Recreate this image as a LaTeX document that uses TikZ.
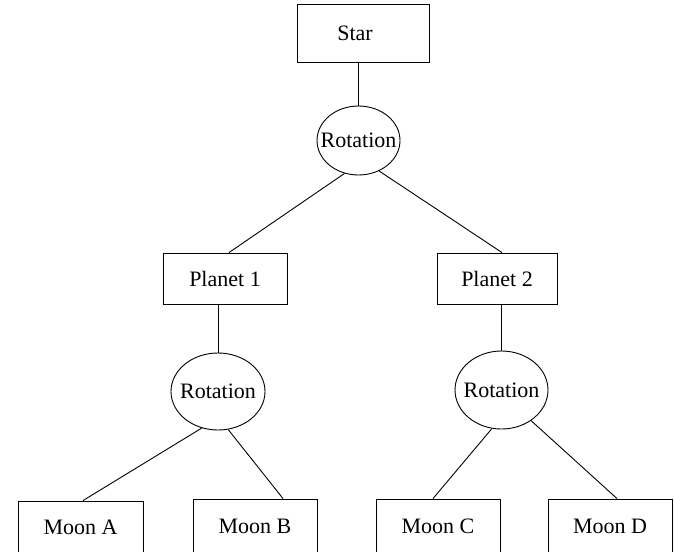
\documentclass[tikz,border=0pt]{standalone}
\usepackage{fontspec}
\setmainfont{Liberation Serif}
\usetikzlibrary{shapes.geometric}
\begin{document}
\begin{tikzpicture}[x=1pt,y=-1pt,
  every node/.style={font=\fontsize{22}{26}\selectfont, inner sep=0pt},
  box/.style={draw, line width=0.9pt, rectangle},
  rot/.style={draw, line width=0.9pt, ellipse},
  conn/.style={line width=0.9pt}]
\useasboundingbox[fill=white] (0,0) rectangle (674,551);
\node[box, minimum width=132pt, minimum height=58pt] (star) at (363,33) {\hspace*{-16pt}Star};
\node[rot, minimum width=83pt, minimum height=69pt] (r0) at (358.5,140.5) {\makebox[0pt]{Rotation}};
\node[box, minimum width=124pt, minimum height=51pt] (p1) at (225,278.5) {Planet 1};
\node[box, minimum width=120pt, minimum height=51pt] (p2) at (497,278.5) {Planet 2};
\node[rot, minimum width=94pt, minimum height=77pt] (r1) at (218,391.5) {\makebox[0pt]{Rotation}};
\node[rot, minimum width=93pt, minimum height=78pt] (r2) at (501.5,390) {\makebox[0pt]{Rotation}};
\node[box, minimum width=125pt, minimum height=52pt] (mA) at (80.5,527) {Moon A};
\node[box, minimum width=124pt, minimum height=54pt] (mB) at (255,526) {Moon B};
\node[box, minimum width=124pt, minimum height=54pt] (mC) at (438,526) {Moon C};
\node[box, minimum width=124pt, minimum height=54pt] (mD) at (610,526) {Moon D};
\draw[conn] (r0.north |- star.south) -- (r0.north);
\draw[conn] (r0.247) -- ([xshift=4pt]p1.north);
\draw[conn] (r0.304) -- ([xshift=5pt]p2.north);
\draw[conn] (r1.north |- p1.south) -- (r1.north);
\draw[conn] (r2.north |- p2.south) -- (r2.north);
\draw[conn] (r1.246) -- ([xshift=2.5pt]mA.north);
\draw[conn] (r1.285) -- ([xshift=28pt]mB.north);
\draw[conn] (r2.256) -- ([xshift=-5pt]mC.north);
\draw[conn] (r2.314) -- ([xshift=7pt]mD.north);
\end{tikzpicture}
\end{document}
